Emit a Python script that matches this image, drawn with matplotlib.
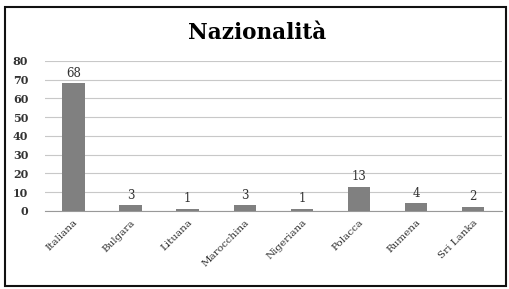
import matplotlib.pyplot as plt
from matplotlib.patches import Rectangle

categories = ["Italiana", "Bulgara", "Lituana", "Marocchina", "Nigeriana",
              "Polacca", "Rumena", "Sri Lanka"]
counts = [68, 3, 1, 3, 1, 13, 4, 2]
yticks = [0, 10, 20, 30, 40, 50, 60, 70, 80]

plt.rcParams["font.family"] = ["DejaVu Serif"]

fig = plt.figure(figsize=(5.09, 2.89), dpi=100)
ax = fig.add_axes([0.088, 0.270, 0.898, 0.519])

x = range(len(categories))
bars = ax.bar(x, counts, width=0.39, color="#808080", zorder=3)
for bar, val in zip(bars, counts):
    ax.text(bar.get_x() + bar.get_width() / 2, val + 2, str(val),
            ha="center", va="bottom", fontsize=8.5, color="#333333")

ax.set_xlim(-0.5, len(categories) - 0.5)
ax.set_ylim(0, 80)
ax.set_yticks(yticks)
ax.set_xticks(list(x))
ax.set_xticklabels(categories, rotation=45, ha="right", rotation_mode="anchor",
                   fontsize=7.5, color="#333333")
ax.tick_params(axis="y", labelsize=8, length=0, pad=12)
ax.tick_params(axis="x", length=0, pad=5)
for lab in ax.get_yticklabels():
    lab.set_fontweight("bold")
    lab.set_color("#333333")

ax.grid(axis="y", color="#c8c8c8", linewidth=0.8, zorder=0)
for s in ["top", "right", "left"]:
    ax.spines[s].set_visible(False)
ax.spines["bottom"].set_color("#999999")

fig.text(0.505, 0.885, "Nazionalità", ha="center", va="center",
         fontsize=15.5, fontweight="bold")

fig.patches.append(Rectangle((0.010, 0.012), 0.985, 0.963, transform=fig.transFigure,
                             fill=False, edgecolor="#111111", linewidth=1.5))

fig.savefig("out.png", dpi=100, facecolor="white")
